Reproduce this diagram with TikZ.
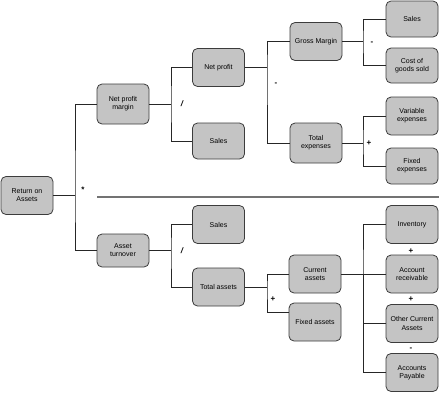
\documentclass[tikz,border=0pt]{standalone}
\usepackage{fontspec}
\setmainfont{Liberation Sans}
\usepackage{xcolor}
\definecolor{boxgray}{HTML}{C4C4C4}
\definecolor{edgegray}{HTML}{3C3C3C}

\begin{document}
\begin{tikzpicture}[x=1pt, y=-1pt, every node/.style={font=\fontsize{7}{8.2}\selectfont},
  blk/.style={draw=edgegray, fill=boxgray, rounded corners=5pt, minimum width=52pt, minimum height=38pt, inner sep=1pt, align=center, line width=0.8pt},
  op/.style={font=\fontsize{8}{8}\selectfont\bfseries, inner sep=0pt},
  link/.style={draw=black!85, line width=0.8pt}]
\useasboundingbox (0,0) rectangle (439,400);
% boxes
\node[blk] (roa) at (27,195.5) {Return on\\Assets};
\node[blk,minimum height=40pt] (npm) at (123,104) {Net profit\\margin};
\node[blk,minimum height=33pt] (at) at (123,250.5) {Asset\\turnover};
\node[blk] (np) at (218.5,67.5) {Net profit};
\node[blk,minimum height=36pt] (sa1) at (218.5,141) {Sales};
\node[blk] (gm) at (316,41.5) {Gross Margin};
\node[blk,minimum height=40pt] (te) at (316,143) {Total\\expenses};
\node[blk,minimum height=36pt] (sa2) at (412,19) {Sales};
\node[blk,minimum height=35pt] (cogs) at (412,65.5) {Cost of\\goods sold};
\node[blk] (ve) at (412,116) {Variable\\expenses};
\node[blk,minimum height=36pt] (fe) at (412,166) {Fixed\\expenses};
\node[blk] (sa3) at (218.5,224.5) {Sales};
\node[blk] (ta) at (218.5,287) {Total assets};
\node[blk] (ca) at (315,274) {Current\\assets};
\node[blk] (fa) at (315,322) {Fixed assets};
\node[blk] (inv) at (412,224.5) {Inventory};
\node[blk] (ar) at (412,274) {Account\\receivable};
\node[blk] (oca) at (412,323.5) {Other Current\\Assets};
\node[blk] (ap) at (412,372.5) {Accounts\\Payable};
% branch points
\coordinate (b1) at (75,195.5);
\coordinate (b2) at (171,104);
\coordinate (b3) at (267,67.5);
\coordinate (b4) at (363,41.5);
\coordinate (b5) at (363,143);
\coordinate (b6) at (171,250.5);
\coordinate (b7) at (267,287);
\coordinate (b8) at (363,274);
% connectors
\draw[link] (roa.east) -- (b1); \draw[link] (npm.west) -| (b1) |- (at.west);
\draw[link] (npm.east) -- (b2); \draw[link] (np.west) -| (b2) |- (sa1.west);
\draw[link] (np.east) -- (b3); \draw[link] (gm.west) -| (b3) |- (te.west);
\draw[link] (gm.east) -- (b4); \draw[link] (sa2.west) -| (b4) |- (cogs.west);
\draw[link] (te.east) -- (b5); \draw[link] (ve.west) -| (b5) |- (fe.west);
\draw[link] (at.east) -- (b6); \draw[link] (sa3.west) -| (b6) |- (ta.west);
\draw[link] (ta.east) -- (b7); \draw[link] (ca.west) -| (b7) |- ([yshift=10pt]fa.west);
\draw[link] (ca.east) -- (ar.west); \draw[link] (inv.west) -| (b8) |- (oca.west);
\draw[link] (b8) |- (ap.west);
% separator
\coordinate (s1) at (97,197); \coordinate (s2) at (439,197);
\draw[black!55, line width=1.6pt] (s1) -- (s2);
% operators
\node[op] (o1) at (83,190) {*};
\node[op] (o2) at (182,104) {\itshape /};
\node[op] (o3) at (276,84) {-};
\node[op] (o4) at (372,43) {-};
\node[op] (o5) at (369,143) {+};
\node[op] (o6) at (182,251) {\itshape /};
\node[op] (o7) at (273,299) {+};
\node[op] (o8) at (411,251) {+};
\node[op] (o9) at (411,299) {+};
\node[op] (o10) at (411,349) {-};
\end{tikzpicture}
\end{document}
